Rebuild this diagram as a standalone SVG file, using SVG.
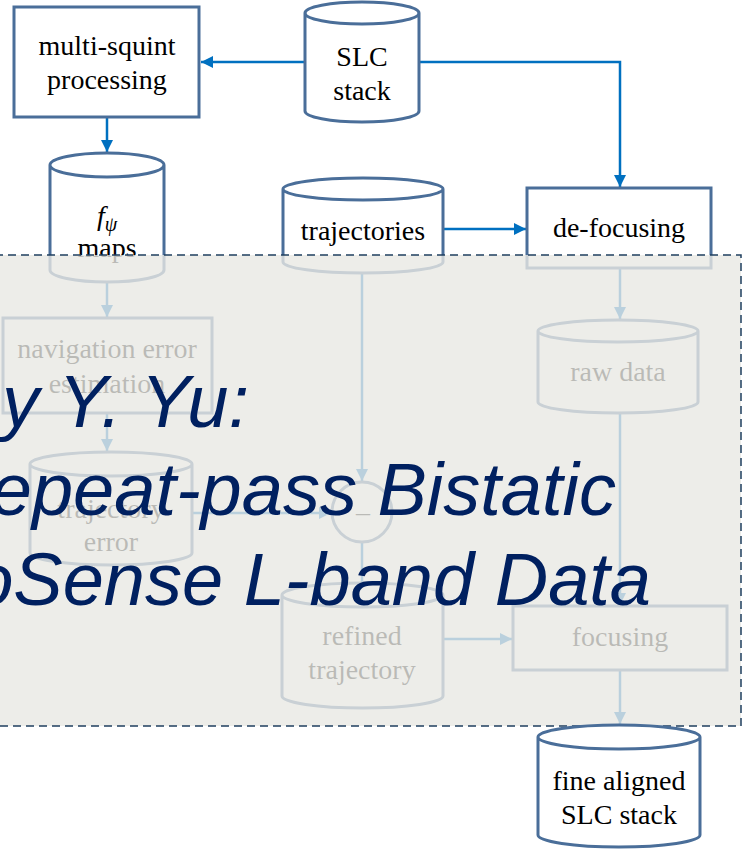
<svg xmlns="http://www.w3.org/2000/svg" width="744" height="850" viewBox="0 0 744 850">
<style>
.node{fill:#fff;stroke:#4A6E99;stroke-width:3}
.lbl{font-family:"Liberation Serif","Times New Roman",serif;font-size:28px;fill:#000;text-anchor:middle}
.conn{fill:none;stroke:#0070C0;stroke-width:2.5}
.title{font-family:"Liberation Sans",Arial,sans-serif;font-style:italic;font-size:74px;fill:#002060;text-anchor:end}
</style>
<defs>
<marker id="ah" markerUnits="userSpaceOnUse" markerWidth="12" markerHeight="12" viewBox="0 0 10 10" refX="10" refY="5" orient="auto">
<path d="M0,0 L10,5 L0,10 z" fill="#0070C0"/>
</marker>
</defs>
<rect width="744" height="850" fill="#fff"/>
<g id="connectors">
<path class="conn" d="M305,62 H201" marker-end="url(#ah)"/>
<path class="conn" d="M419,62 H620 V187" marker-end="url(#ah)"/>
<path class="conn" d="M107,117 V152" marker-end="url(#ah)"/>
<path class="conn" d="M443,229 H526" marker-end="url(#ah)"/>
<path class="conn" d="M107,282 V317" marker-end="url(#ah)"/>
<path class="conn" d="M107,413 V451" marker-end="url(#ah)"/>
<path class="conn" d="M192,513 H331" marker-end="url(#ah)"/>
<path class="conn" d="M362,273 V481" marker-end="url(#ah)"/>
<path class="conn" d="M362,542 V583"/>
<path class="conn" d="M620,268 V319" marker-end="url(#ah)"/>
<path class="conn" d="M620,413 V605" marker-end="url(#ah)"/>
<path class="conn" d="M443,639 H512" marker-end="url(#ah)"/>
<path class="conn" d="M620,670 V724" marker-end="url(#ah)"/>
</g>
<g id="multi-squint">
<rect class="node" x="14" y="7" width="185" height="110"/>
<text class="lbl" x="107" y="55">multi-squint</text>
<text class="lbl" x="107" y="89">processing</text>
</g>
<g id="slc-stack">
<path class="node" d="M305,13 V111 A57,11 0 0 0 419,111 V13 A57,11 0 0 0 305,13 Z M305,13 A57,11 0 0 0 419,13"/>
<text class="lbl" x="362" y="66">SLC</text>
<text class="lbl" x="362" y="100">stack</text>
</g>
<g id="fpsi-maps">
<path class="node" d="M50,165 V270 A57,12 0 0 0 164,270 V165 A57,12 0 0 0 50,165 Z M50,165 A57,12 0 0 0 164,165"/>
<text class="lbl" x="107" y="225" font-style="italic">f<tspan font-size="20" dy="6">ψ</tspan></text>
<text class="lbl" x="107" y="257">maps</text>
</g>
<g id="trajectories">
<path class="node" d="M283,189 V262 A80,11 0 0 0 443,262 V189 A80,11 0 0 0 283,189 Z M283,189 A80,11 0 0 0 443,189"/>
<text class="lbl" x="363" y="240">trajectories</text>
</g>
<g id="de-focusing">
<rect class="node" x="527" y="188" width="184" height="80"/>
<text class="lbl" x="619" y="237">de-focusing</text>
</g>
<g id="raw-data">
<path class="node" d="M538,331 V402 A80,11 0 0 0 698,402 V331 A80,11 0 0 0 538,331 Z M538,331 A80,11 0 0 0 698,331"/>
<text class="lbl" x="618" y="381">raw data</text>
</g>
<g id="nav-error">
<rect class="node" x="3" y="318" width="209" height="95"/>
<text class="lbl" x="107" y="358">navigation error</text>
<text class="lbl" x="107" y="393">estimation</text>
</g>
<g id="trajectory-error">
<path class="node" d="M30,464 V553 A81,12 0 0 0 192,553 V464 A81,12 0 0 0 30,464 Z M30,464 A81,12 0 0 0 192,464"/>
<text class="lbl" x="111" y="518">trajectory</text>
<text class="lbl" x="111" y="551">error</text>
</g>
<g id="sum">
<circle class="node" cx="362" cy="512" r="30"/>
<text class="lbl" x="363" y="512">_</text>
</g>
<g id="refined-trajectory">
<path class="node" d="M282,595 V696 A80.5,12 0 0 0 443,696 V595 A80.5,12 0 0 0 282,595 Z M282,595 A80.5,12 0 0 0 443,595"/>
<text class="lbl" x="362" y="645">refined</text>
<text class="lbl" x="362" y="679">trajectory</text>
</g>
<g id="focusing">
<rect class="node" x="513" y="606" width="214" height="64"/>
<text class="lbl" x="620" y="646">focusing</text>
</g>
<rect id="overlay" x="-5" y="255" width="746" height="471" fill="#E8E8E3" fill-opacity="0.8" stroke="#1F3F5F" stroke-width="1.5" stroke-dasharray="8,5"/>
<g id="fine-aligned">
<path class="node" d="M538,737 V835 A81,12 0 0 0 700,835 V737 A81,12 0 0 0 538,737 Z M538,737 A81,12 0 0 0 700,737"/>
<text class="lbl" x="619" y="790">fine aligned</text>
<text class="lbl" x="619" y="824">SLC stack</text>
</g>
<g id="title">
<text class="title" x="249" y="427">y Y. Yu:</text>
<text class="title" x="616" y="515">epeat-pass Bistatic</text>
<text class="title" x="651" y="605">oSense L-band Data</text>
</g>
</svg>
